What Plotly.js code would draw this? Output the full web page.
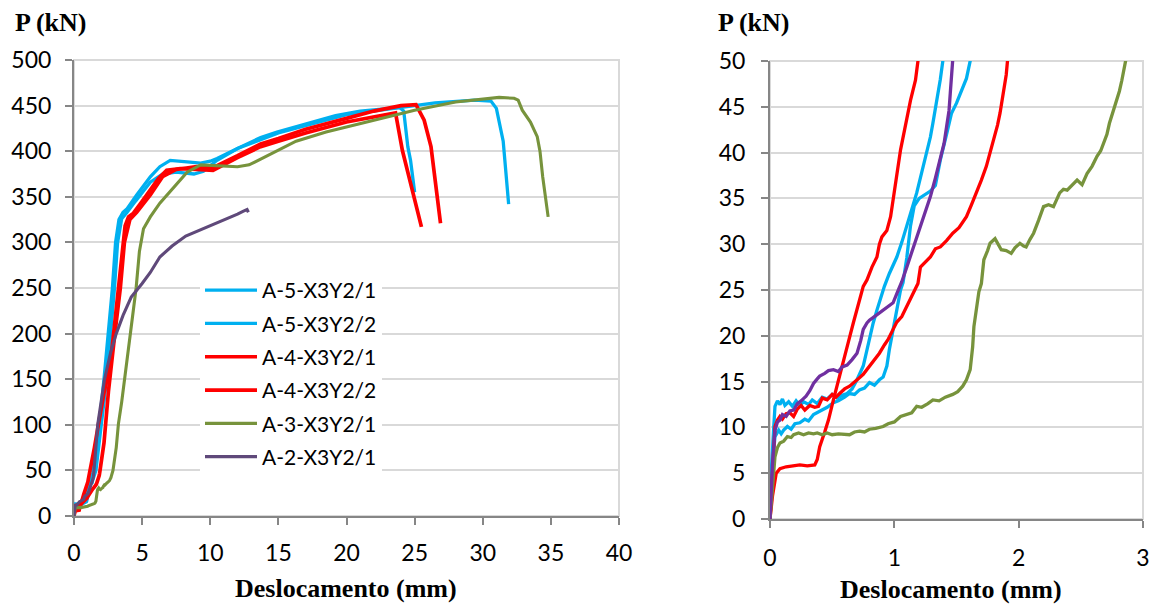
<!DOCTYPE html>
<html>
<head>
<meta charset="utf-8">
<script src="https://cdn.plot.ly/plotly-3.0.1.min.js"></script>
<style>
  html, body { margin: 0; padding: 0; background: #ffffff; }
  #chart { width: 1154px; height: 605px; }
</style>
</head>
<body>
<div id="chart"></div>
<script>
// Load–displacement curves of the A-series specimens.
// Left panel: full tests; right panel: first 3 mm of the same curves.

const seriesNames = ['A-5-X3Y2/1', 'A-5-X3Y2/2', 'A-4-X3Y2/1', 'A-4-X3Y2/2', 'A-3-X3Y2/1', 'A-2-X3Y2/1'];

// Deslocamento (mm) / P (kN)
const a5_1_x = [0, 0.01, 0.03, 0.04, 0.06, 0.08, 0.10, 0.12, 0.15, 0.18, 0.21, 0.24, 0.27, 0.31, 0.34, 0.38, 0.42, 0.46, 0.50, 0.54, 0.58, 0.62, 0.66, 0.70, 0.75, 0.78, 0.81, 0.83, 0.86, 0.89, 0.92, 0.96, 0.99, 1.02, 1.06, 1.10, 1.14, 1.18, 1.22, 1.26, 1.29, 1.31, 1.33, 1.35, 1.37, 1.39,
  1.85, 2.2, 2.82, 3.05, 3.3, 3.6, 3.9, 4.6, 5.6, 6.3, 7.06, 8.5, 9.3, 10.0, 10.5, 12.0, 13.7, 14.9, 17.0, 19.2, 21.0, 22.4, 23.9, 24.2, 24.35, 24.5, 24.7, 25.0];
const a5_1_y = [0, 5, 10, 12.3, 12.9, 12.5, 13.1, 12.4, 12.8, 12.3, 12.9, 12.4, 12.8, 12.5, 13.0, 12.6, 13.3, 13.1, 13.6, 13.2, 13.5, 13.7, 14.2, 15.2, 16.7, 18.5, 20.2, 21.4, 22.8, 24.2, 25.4, 26.8, 27.8, 28.6, 30.2, 31.9, 33.8, 35.6, 37.8, 39.9, 41.7, 43.2, 44.8, 46.1, 48.0, 50,
  100, 150, 250, 300, 325, 333, 337, 352, 372, 383, 390, 388, 387, 389, 392, 403, 415, 421, 430, 439, 444, 446, 448, 444, 425, 405, 390, 355];

const a5_2_x = [0, 0.02, 0.04, 0.07, 0.09, 0.11, 0.14, 0.17, 0.20, 0.24, 0.28, 0.31, 0.35, 0.38, 0.42, 0.46, 0.51, 0.55, 0.60, 0.64, 0.68, 0.72, 0.76, 0.80, 0.84, 0.88, 0.91, 0.94, 0.96, 0.99, 1.02, 1.05, 1.07, 1.10, 1.13, 1.16, 1.20, 1.24, 1.29, 1.33, 1.37, 1.42, 1.46, 1.50, 1.55, 1.58, 1.61,
  2.0, 2.4, 2.97, 3.2, 3.5, 3.9, 4.5, 5.6, 6.5, 7.5, 8.8, 9.5, 10.5, 12.0, 15.0, 20.0, 25.0, 26.5, 29.4, 30.6, 31.0, 31.5, 31.9];
const a5_2_y = [0, 6, 9.0, 9.7, 9.3, 9.7, 10.1, 9.8, 10.4, 10.5, 10.9, 10.7, 11.4, 11.6, 11.9, 12.2, 12.7, 12.9, 13.3, 13.7, 13.6, 14.1, 14.3, 14.9, 14.6, 15.2, 15.5, 16.7, 18.5, 20.7, 22.8, 25.0, 25.8, 28.5, 32.0, 34.2, 35.0, 35.4, 35.8, 36.4, 39.2, 42.0, 44.3, 45.4, 47.2, 48.1, 50,
  100, 150, 250, 300, 326, 333, 345, 366, 375, 377, 375, 378, 390, 403, 420, 440, 450, 453, 456, 455, 447, 411, 342];

const a4_1_x = [0, 0.02, 0.05, 0.08, 0.13, 0.18, 0.24, 0.30, 0.36, 0.38, 0.40, 0.44, 0.47, 0.51, 0.55, 0.59, 0.63, 0.67, 0.71, 0.75, 0.78, 0.82, 0.86, 0.88, 0.90, 0.94, 0.97, 0.99, 1.02, 1.05, 1.09, 1.13, 1.17, 1.19,
  1.5, 1.8, 2.2, 2.67, 3.0, 3.26, 3.5, 3.75, 4.0, 4.36, 5.0, 5.6, 6.2, 6.8, 7.8, 9.0, 10.2, 12.0, 13.7, 15.0, 17.0, 20.0, 22.0, 23.6, 24.1, 24.7, 25.5];
const a4_1_y = [0, 2.5, 5.0, 5.5, 5.7, 5.8, 5.9, 5.8, 5.9, 6.5, 7.9, 9.5, 10.8, 13.0, 15.0, 17.0, 19.3, 21.4, 23.5, 25.4, 26.1, 27.5, 28.6, 30.0, 30.8, 31.5, 33.0, 34.8, 37.5, 40.3, 43.0, 45.7, 47.9, 50,
  75, 101, 135, 167, 215, 250, 290, 318, 328, 332, 345, 357, 370, 379, 381, 380, 379, 393, 405, 411, 420, 432, 438, 442, 401, 365, 317];

const a4_2_x = [0, 0.02, 0.04, 0.06, 0.08, 0.10, 0.13, 0.16, 0.19, 0.22, 0.25, 0.28, 0.32, 0.36, 0.39, 0.42, 0.46, 0.50, 0.53, 0.56, 0.60, 0.64, 0.67, 0.71, 0.75, 0.78, 0.82, 0.85, 0.88, 0.92, 0.95, 0.99, 1.02, 1.06, 1.10, 1.15, 1.19, 1.21, 1.25, 1.29, 1.33, 1.37, 1.42, 1.47, 1.52, 1.58, 1.62, 1.66, 1.70, 1.74, 1.77, 1.80, 1.83, 1.85, 1.87, 1.89, 1.90, 1.91,
  2.2, 2.53, 3.0, 3.4, 3.7, 4.1, 4.6, 5.6, 6.5, 7.5, 9.0, 10.2, 12.0, 13.7, 15.0, 17.0, 20.0, 22.0, 24.0, 25.1, 25.7, 26.2, 26.9];
const a4_2_y = [0, 6, 10.1, 10.8, 11.2, 10.9, 11.5, 11.6, 11.2, 12.0, 12.4, 11.9, 12.4, 12.2, 12.3, 13.2, 13.0, 13.6, 13.3, 13.7, 14.2, 14.5, 14.8, 15.3, 15.8, 16.3, 17.0, 17.5, 18.1, 19.0, 19.6, 20.7, 21.5, 22.1, 23.2, 24.5, 25.7, 27.5, 28.0, 28.6, 29.5, 29.7, 30.4, 31.2, 31.8, 33.0, 34.3, 35.6, 37.0, 38.5, 40.0, 41.4, 43.0, 44.3, 46.0, 47.2, 48.5, 50,
  80, 137, 200, 250, 300, 325, 333, 352, 372, 380, 383, 382, 395, 408, 414, 424, 436, 444, 450, 451, 434, 405, 321];

const a3_1_x = [0, 0.02, 0.04, 0.06, 0.08, 0.11, 0.14, 0.17, 0.19, 0.23, 0.27, 0.31, 0.35, 0.38, 0.42, 0.46, 0.50, 0.55, 0.60, 0.64, 0.68, 0.72, 0.76, 0.80, 0.85, 0.91, 0.95, 1.00, 1.05, 1.10, 1.14, 1.18, 1.22, 1.27, 1.31, 1.36, 1.41, 1.47, 1.51, 1.55, 1.58, 1.61, 1.63, 1.64, 1.66, 1.68, 1.70, 1.72, 1.75, 1.77, 1.81, 1.84, 1.86, 1.90, 1.94, 1.97, 2.01, 2.04, 2.06, 2.09, 2.12, 2.16, 2.20, 2.24, 2.28, 2.33, 2.36, 2.39, 2.43, 2.47, 2.51, 2.55, 2.59, 2.63, 2.66, 2.68, 2.71, 2.73, 2.76, 2.79, 2.81, 2.83, 2.86,
  3.1, 3.26, 3.5, 3.7, 3.9, 4.1, 4.35, 4.56, 4.8, 5.1, 5.6, 6.3, 7.3, 8.3, 9.3, 10.5, 12.0, 12.85, 14.5, 16.3, 18.5, 20.7, 23.0, 25.0, 28.0, 30.0, 31.2, 32.3, 32.6, 32.9, 33.5, 34.0, 34.2, 34.4, 34.8];
const a3_1_y = [0, 4, 6.8, 7.8, 8.3, 8.5, 9.0, 8.9, 9.2, 9.4, 9.2, 9.4, 9.3, 9.4, 9.2, 9.4, 9.2, 9.3, 9.2, 9.2, 9.5, 9.6, 9.5, 9.8, 9.9, 10.1, 10.4, 10.6, 11.2, 11.4, 11.6, 12.3, 12.2, 12.6, 13.0, 12.9, 13.3, 13.6, 13.9, 14.5, 15.2, 16.3, 18.8, 21.0, 23.2, 24.8, 25.7, 28.3, 29.3, 30.1, 30.6, 29.8, 29.4, 29.3, 29.0, 29.6, 30.1, 29.8, 29.7, 30.5, 31.2, 32.6, 34.1, 34.3, 34.1, 35.6, 36.0, 35.9, 36.4, 37.0, 36.5, 37.7, 38.5, 39.6, 40.2, 41.0, 42.0, 43.2, 44.5, 45.7, 46.7, 47.9, 50,
  75, 101, 125, 150, 175, 200, 225, 250, 290, 315, 328, 343, 360, 377, 385, 384, 383, 385, 397, 411, 421, 429, 438, 445, 454, 457, 459, 458, 456, 445, 432, 416, 400, 372, 328];

const a2_1_x = [0, 0.02, 0.04, 0.06, 0.08, 0.10, 0.13, 0.16, 0.19, 0.22, 0.25, 0.29, 0.32, 0.35, 0.38, 0.40, 0.44, 0.47, 0.51, 0.55, 0.58, 0.62, 0.66, 0.70, 0.73, 0.75, 0.78, 0.80, 0.84, 0.88, 0.91, 0.95, 0.99, 1.02, 1.06, 1.10, 1.15, 1.21, 1.25, 1.29, 1.33, 1.37, 1.40, 1.42, 1.44, 1.45, 1.46, 1.47,
  1.74, 2.24, 2.7, 3.1, 3.6, 4.2, 5.0, 5.6, 6.3, 7.2, 8.2, 9.65, 10.5, 11.2, 12.0, 12.4, 12.7, 12.8];
const a2_1_y = [0, 6, 9.7, 10.6, 10.8, 11.4, 11.2, 11.8, 11.9, 12.6, 12.9, 13.4, 14.0, 14.8, 15.3, 15.6, 15.9, 16.2, 16.3, 16.1, 16.6, 16.8, 17.4, 18.1, 19.5, 20.7, 21.4, 21.7, 22.1, 22.5, 22.8, 23.2, 23.6, 24.6, 25.9, 27.5, 29.6, 31.9, 33.6, 35.2, 37.2, 39.2, 41.0, 42.8, 44.6, 46.5, 48.2, 50,
  100, 150, 180, 200, 220, 240, 255, 267, 284, 296, 307, 316, 322, 326, 331, 334, 336, 333];

const leftTicksX = [0, 5, 10, 15, 20, 25, 30, 35, 40];
const leftTicksY = [0, 50, 100, 150, 200, 250, 300, 350, 400, 450, 500];
const rightTicksX = [0, 1, 2, 3];
const rightTicksY = [0, 5, 10, 15, 20, 25, 30, 35, 40, 45, 50];

const xs = [a5_1_x, a5_2_x, a4_1_x, a4_2_x, a3_1_x, a2_1_x];
const ys = [a5_1_y, a5_2_y, a4_1_y, a4_2_y, a3_1_y, a2_1_y];

// styling
const W = 1154, H = 605;
const px = v => v / W;
const py = v => 1 - v / H;
const leftColors  = ['#00B0F0', '#00B0F0', '#FF0000', '#FF0000', '#77933C', '#5F497A'];
const rightColors = ['#00B0F0', '#00B0F0', '#FF0000', '#FF0000', '#77933C', '#7030A0'];
const leftWidths  = [3.3, 3.3, 3.7, 3.7, 3.1, 3.1];

const traces = [];
seriesNames.forEach((name, i) => {
  traces.push({
    type: 'scatter', mode: 'lines', name: name,
    x: xs[i], y: ys[i], xaxis: 'x', yaxis: 'y',
    legendgroup: 'g' + i,
    line: { color: leftColors[i], width: leftWidths[i], shape: 'linear' },
    hoverinfo: 'x+y+name'
  });
});
seriesNames.forEach((name, i) => {
  traces.push({
    type: 'scatter', mode: 'lines', name: name,
    x: xs[i], y: ys[i], xaxis: 'x2', yaxis: 'y2',
    legendgroup: 'g' + i, showlegend: false,
    line: { color: rightColors[i], width: 3.3 },
    hoverinfo: 'x+y+name'
  });
});

const tickFont = { family: 'Lato, "Open Sans", sans-serif', size: 23, color: '#000000' };
const titleFont = { family: '"Liberation Serif", "Times New Roman", serif', size: 26, color: '#000000' };
const axisBase = {
  showline: true, linecolor: '#868686', linewidth: 2,
  ticks: 'outside', ticklen: 7, tickwidth: 2, tickcolor: '#868686',
  zeroline: false, tickfont: tickFont, fixedrange: true
};

function label(text, x, y) {
  return { text: '<b>' + text + '</b>', xref: 'paper', yref: 'paper', x: px(x), y: py(y),
           xanchor: 'center', yanchor: 'middle', showarrow: false, font: titleFont };
}

const layout = {
  width: W, height: H,
  margin: { l: 0, r: 0, t: 0, b: 0 },
  paper_bgcolor: '#ffffff', plot_bgcolor: '#ffffff',
  showlegend: true,
  legend: {
    x: px(200), y: py(270), xanchor: 'left', yanchor: 'top',
    bgcolor: '#ffffff', borderwidth: 0,
    font: { family: 'Lato, "Open Sans", sans-serif', size: 21, color: '#000000' },
    tracegroupgap: 3, itemwidth: 52, traceorder: 'grouped'
  },
  xaxis: Object.assign({}, axisBase, {
    domain: [px(74), px(619)], range: [0, 40], tickvals: leftTicksX,
    showgrid: false, anchor: 'y', ticklabelstandoff: 8
  }),
  yaxis: Object.assign({}, axisBase, {
    domain: [py(516), py(60)], range: [0, 500], tickvals: leftTicksY,
    showgrid: true, gridcolor: '#D9D9D9', gridwidth: 2, anchor: 'x', ticklabelstandoff: 9
  }),
  xaxis2: Object.assign({}, axisBase, {
    domain: [px(770), px(1143)], range: [0, 3], tickvals: rightTicksX,
    showgrid: false, anchor: 'y2', ticklabelstandoff: 10
  }),
  yaxis2: Object.assign({}, axisBase, {
    domain: [py(519), py(61)], range: [0, 50], tickvals: rightTicksY,
    showgrid: true, gridcolor: '#D9D9D9', gridwidth: 2, anchor: 'x2', ticklabelstandoff: 11
  }),
  shapes: [
    { type: 'rect', xref: 'x domain', yref: 'y domain', x0: 0, x1: 1, y0: 0, y1: 1,
      line: { color: '#D9D9D9', width: 2 }, layer: 'below' },
    { type: 'rect', xref: 'x2 domain', yref: 'y2 domain', x0: 0, x1: 1, y0: 0, y1: 1,
      line: { color: '#D9D9D9', width: 2 }, layer: 'below' }
  ],
  annotations: [
    label('P (kN)', 51, 22),
    label('P (kN)', 754, 22),
    label('Deslocamento (mm)', 346, 588),
    label('Deslocamento (mm)', 951, 589)
  ]
};

Plotly.newPlot('chart', traces, layout, { displayModeBar: false });
</script>
</body>
</html>
